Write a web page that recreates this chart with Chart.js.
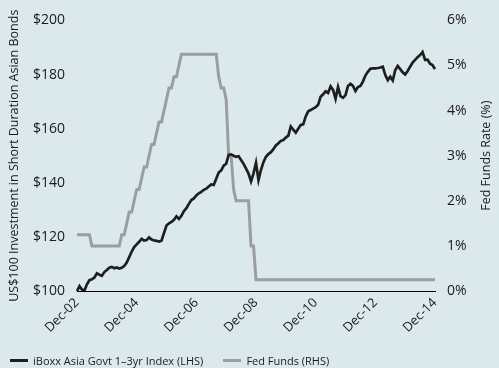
<!DOCTYPE html>
<html>
<head>
<meta charset="utf-8">
<script src="https://cdn.jsdelivr.net/npm/chart.js@4.4.0/dist/chart.umd.min.js"></script>
<style>
    html, body { margin: 0; padding: 0; background: #dce9ec; }
    #wrap { width: 499px; height: 368px; position: relative; }
    #legend { position: absolute; left: 10px; top: 353px; display: flex; align-items: center;
              font: 11px "Open Sans", sans-serif; color: #1a1a1a; white-space: nowrap; }
    #legend .item { display: flex; align-items: center; margin-right: 20px; }
    #legend .swatch { width: 18px; height: 3px; margin-right: 5px; }
</style>
</head>
<body>
<div id="wrap">
    <canvas id="bondsChart" width="499" height="368"></canvas>
    <div id="legend"></div>
</div>
<script>
// Monthly data, Dec-02 .. Dec-14 (145 points)
const monthNames = ['Jan', 'Feb', 'Mar', 'Apr', 'May', 'Jun', 'Jul', 'Aug', 'Sep', 'Oct', 'Nov', 'Dec'];
const tickLabels = ['Dec-02', 'Dec-04', 'Dec-06', 'Dec-08', 'Dec-10', 'Dec-12', 'Dec-14'];

// iBoxx Asia Govt 1-3yr Index, US$100 invested (LHS)
const iboxx = [
    100, 101.8, 100.5, 100.2, 102.5, 104, 104.3, 105, 106.5, 106, 105.6, 107,
    107.8, 108.6, 108.9, 108.4, 108.7, 108.3, 108.6, 109.2, 110.5, 112.5, 114.6, 116.2,
    117.2, 118.2, 119.3, 118.6, 118.8, 119.8, 119, 118.7, 118.5, 118.3, 118.6, 121.5,
    124.2, 125, 125.5, 126.3, 127.6, 126.6, 127.8, 129.5, 130.6, 132.2, 133.6, 134.2,
    135.3, 136.1, 136.6, 137.4, 137.8, 138.6, 139.4, 139.2, 141.5, 143.8, 144.6, 146.3,
    147, 150.3, 150.5, 150, 149.6, 149.8, 148.4, 147, 145.2, 143.4, 140.5, 143.5,
    147.4, 141, 144.8, 147.6, 149.6, 150.6, 151.3, 152.4, 153.8, 154.6, 155.5, 155.8,
    156.7, 157.4, 160.8, 159.6, 158.5, 160, 161.4, 161.6, 164.5, 166.4, 166.9, 167.4,
    167.9, 168.8, 171.8, 172.7, 173.8, 173.2, 175.6, 174.3, 171, 175.4, 172, 171.4,
    172.4, 175.8, 176.6, 175.8, 173.9, 175.4, 175.8, 177.4, 179.6, 181, 182.1, 182.3,
    182.3, 182.4, 182.6, 182.9, 179.8, 177.9, 179.2, 177.8, 181.6, 183.2, 182, 180.8,
    180, 181.3, 182.9, 184.4, 185.4, 186.4, 187.2, 188.3, 185.4, 185.5, 184, 183.5,
    182
];

// Fed Funds target rate, % (RHS)
const fedFunds = [
    1.25,
    1.25, 1.25, 1.25, 1.25, 1.25, 1.00, 1.00, 1.00, 1.00, 1.00, 1.00, 1.00,
    1.00, 1.00, 1.00, 1.00, 1.00, 1.25, 1.25, 1.50, 1.75, 1.75, 2.00, 2.25,
    2.25, 2.50, 2.75, 2.75, 3.00, 3.25, 3.25, 3.50, 3.75, 3.75, 4.00, 4.25,
    4.50, 4.50, 4.75, 4.75, 5.00, 5.25, 5.25, 5.25, 5.25, 5.25, 5.25, 5.25,
    5.25, 5.25, 5.25, 5.25, 5.25, 5.25, 5.25, 5.25, 4.75, 4.50, 4.50, 4.25,
    3.00, 3.00, 2.25, 2.00, 2.00, 2.00, 2.00, 2.00, 2.00, 1.00, 1.00, 0.25,
    0.25, 0.25, 0.25, 0.25, 0.25, 0.25, 0.25, 0.25, 0.25, 0.25, 0.25, 0.25,
    0.25, 0.25, 0.25, 0.25, 0.25, 0.25, 0.25, 0.25, 0.25, 0.25, 0.25, 0.25,
    0.25, 0.25, 0.25, 0.25, 0.25, 0.25, 0.25, 0.25, 0.25, 0.25, 0.25, 0.25,
    0.25, 0.25, 0.25, 0.25, 0.25, 0.25, 0.25, 0.25, 0.25, 0.25, 0.25, 0.25,
    0.25, 0.25, 0.25, 0.25, 0.25, 0.25, 0.25, 0.25, 0.25, 0.25, 0.25, 0.25,
    0.25, 0.25, 0.25, 0.25, 0.25, 0.25, 0.25, 0.25, 0.25, 0.25, 0.25, 0.25
];

const labels = [];
for (let m = 0; m < iboxx.length; m++) {
    const idx = 11 + m;
    const yy = String(2 + Math.floor(idx / 12)).padStart(2, '0');
    labels.push(monthNames[idx % 12] + '-' + yy);
}

const textColor = '#1a1a1a';
const fontFamily = '"Open Sans", sans-serif';
const rightTitle = 'Fed Funds Rate (%)';

// right axis title reads bottom-to-top like the left one
const rightTitlePlugin = {
    id: 'rightTitle',
    afterDraw(chart) {
        const ctx = chart.ctx;
        const area = chart.chartArea;
        ctx.save();
        ctx.translate(486, (area.top + area.bottom) / 2);
        ctx.rotate(-Math.PI / 2);
        ctx.fillStyle = textColor;
        ctx.font = '12.5px ' + fontFamily;
        ctx.textAlign = 'center';
        ctx.textBaseline = 'middle';
        ctx.fillText(rightTitle, 0, 0);
        ctx.restore();
    }
};

const chart = new Chart(document.getElementById('bondsChart'), {
    type: 'line',
    data: {
        labels: labels,
        datasets: [
            {
                label: 'iBoxx Asia Govt 1\u20133yr Index (LHS)',
                data: iboxx,
                yAxisID: 'y',
                borderColor: '#1e1e1e',
                borderWidth: 2.7,
                pointRadius: 0,
                tension: 0
            },
            {
                label: 'Fed Funds (RHS)',
                data: fedFunds,
                yAxisID: 'y1',
                borderColor: '#9b9ea0',
                borderWidth: 3,
                pointRadius: 0,
                tension: 0
            }
        ]
    },
    options: {
        responsive: false,
        animation: false,
        layout: { padding: { top: 14, left: 0, right: 0, bottom: 27 } },
        plugins: {
            tooltip: { enabled: false },
            legend: { display: false }
        },
        scales: {
            x: {
                type: 'category',
                offset: false,
                grid: { display: false, drawTicks: false },
                border: { display: true, color: '#000', width: 1 },
                ticks: {
                    autoSkip: false,
                    maxRotation: 45,
                    minRotation: 45,
                    padding: 4,
                    color: textColor,
                    font: { family: fontFamily, size: 13 },
                    callback: (val, i) => tickLabels.includes(labels[i]) ? labels[i] : ''
                },
                afterFit: (scale) => { scale.height = 50; }
            },
            y: {
                position: 'left',
                min: 100,
                max: 200,
                grid: { display: false, drawTicks: false },
                border: { display: false },
                ticks: {
                    stepSize: 20,
                    padding: 12,
                    color: textColor,
                    font: { family: fontFamily, size: 14 },
                    callback: (v) => '$' + v
                },
                title: {
                    display: true,
                    text: 'US$100 Investment in Short Duration Asian Bonds',
                    color: textColor,
                    font: { family: fontFamily, size: 12.5 },
                    padding: { top: 7, bottom: 0 }
                },
                afterFit: (scale) => { scale.width = 77; }
            },
            y1: {
                position: 'right',
                min: 0,
                max: 6,
                grid: { display: false, drawTicks: false },
                border: { display: false },
                ticks: {
                    stepSize: 1,
                    padding: 12,
                    color: textColor,
                    font: { family: fontFamily, size: 14 },
                    callback: (v) => v + '%'
                },
                afterFit: (scale) => { scale.width = 64; }
            }
        }
    },
    plugins: [rightTitlePlugin]
});

// html legend built from the datasets
const legendEl = document.getElementById('legend');
chart.data.datasets.forEach((ds) => {
    const item = document.createElement('div');
    item.className = 'item';
    const sw = document.createElement('span');
    sw.className = 'swatch';
    sw.style.background = ds.borderColor;
    const txt = document.createElement('span');
    txt.textContent = ds.label;
    item.appendChild(sw);
    item.appendChild(txt);
    legendEl.appendChild(item);
});
</script>
</body>
</html>
